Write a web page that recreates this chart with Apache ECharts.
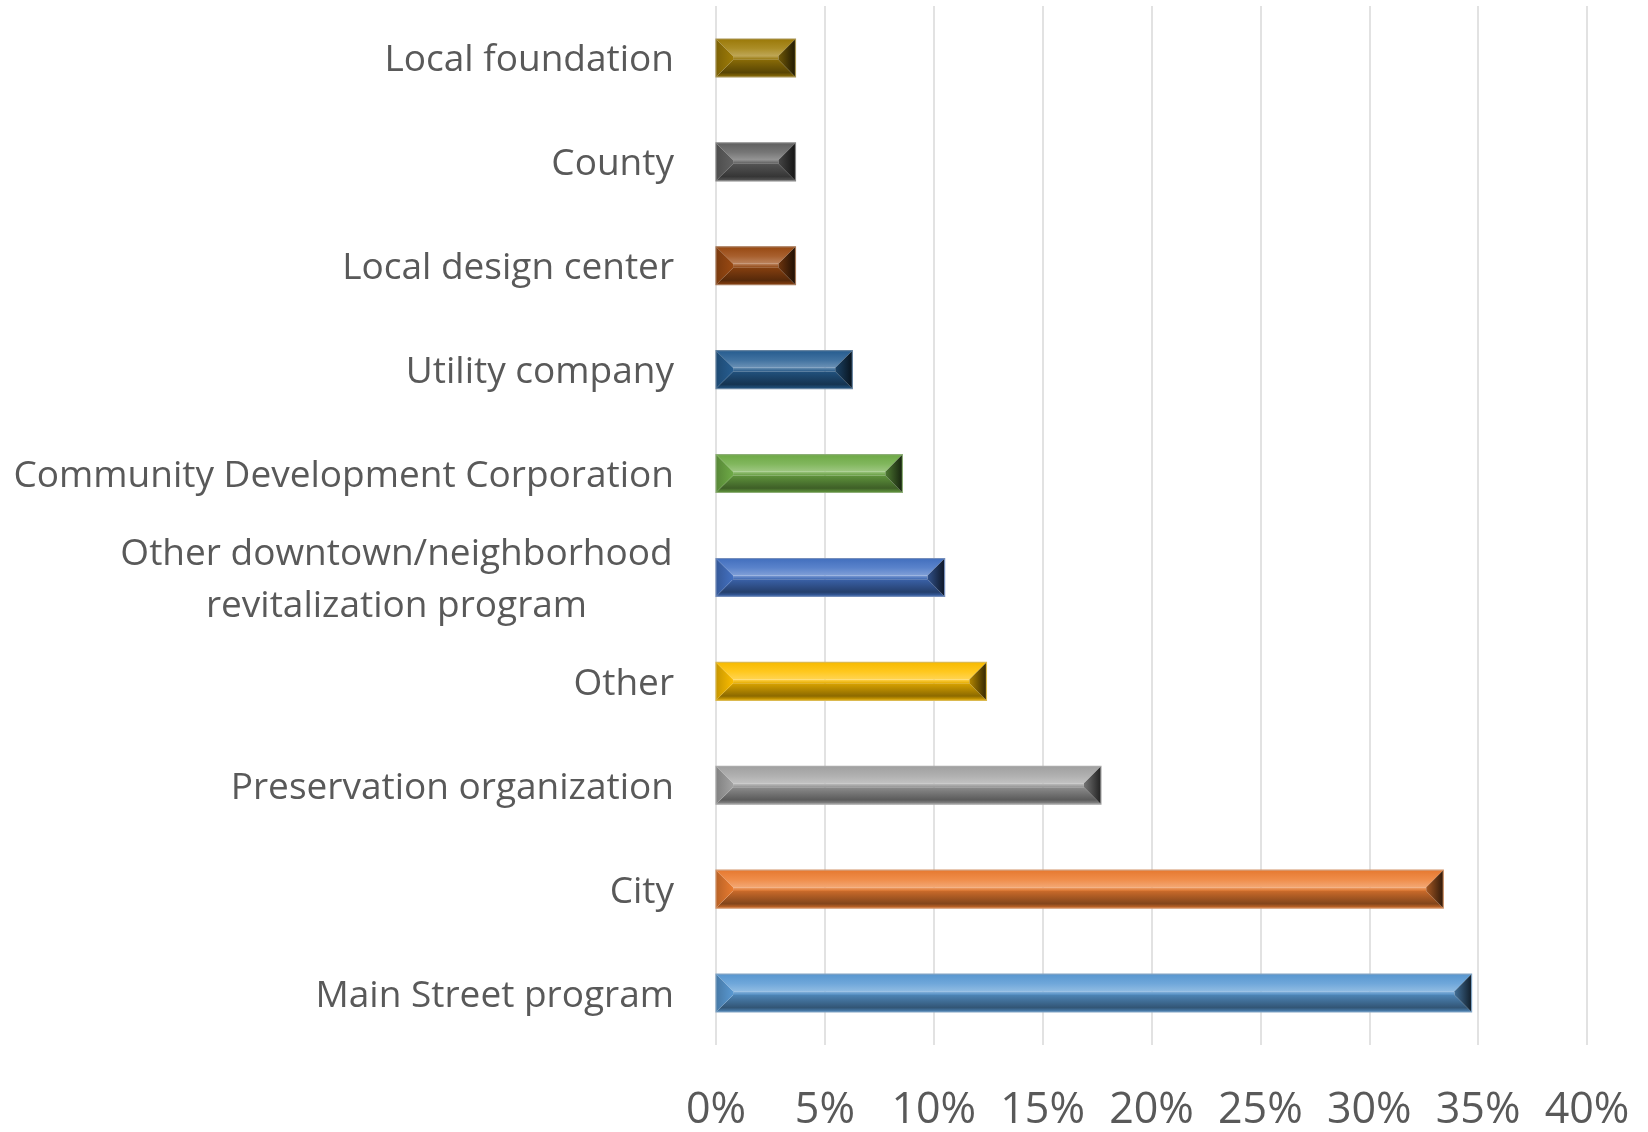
<!DOCTYPE html>
<html>
<head>
<meta charset="utf-8">
<title>Partner organizations</title>
<script src="https://cdn.jsdelivr.net/npm/echarts@6/dist/echarts.min.js"></script>
<style>
  html, body { margin: 0; padding: 0; background: #ffffff; }
  #chart { width: 1648px; height: 1132px; }
</style>
</head>
<body>
<div id="chart"></div>
<script>
// Categories listed top to bottom
const categories = [
  'Local foundation',
  'County',
  'Local design center',
  'Utility company',
  'Community Development Corporation',
  'Other downtown/neighborhood\nrevitalization program',
  'Other',
  'Preservation organization',
  'City',
  'Main Street program'
];

// Share of respondents, percent
const shares = [3.65, 3.65, 3.65, 6.26, 8.56, 10.5, 12.42, 17.68, 33.4, 34.7];

// Value axis ticks, percent
const tickValues = [0, 5, 10, 15, 20, 25, 30, 35, 40];

// Bar base colours, one per category
const barColors = ['#a07d08', '#636363', '#9c4a12', '#275f93', '#70ad47', '#4472c4', '#ffc000', '#a5a5a5', '#ed7d31', '#5b9bd5'];

const LABEL_FONT = '"Open Sans", "Noto Sans", sans-serif';
const LABEL_SIZE = 37;
const TEXT_COLOR = '#595959';

function hexToRgb(h) {
  h = h.replace('#', '');
  return [parseInt(h.slice(0, 2), 16), parseInt(h.slice(2, 4), 16), parseInt(h.slice(4, 6), 16)];
}
function mix(hex, target, t) {
  const a = hexToRgb(hex), b = hexToRgb(target);
  const c = a.map((v, i) => Math.round(v + (b[i] - v) * t));
  return 'rgb(' + c.join(',') + ')';
}
const lighten = (c, t) => mix(c, '#ffffff', t);
const darken = (c, t) => mix(c, '#000000', t);
function vgrad(stops) {
  return { type: 'linear', x: 0, y: 0, x2: 0, y2: 1, colorStops: stops.map(s => ({ offset: s[0], color: s[1] })) };
}
function hgrad(stops) {
  return { type: 'linear', x: 0, y: 0, x2: 1, y2: 0, colorStops: stops.map(s => ({ offset: s[0], color: s[1] })) };
}

// Width of the widest line of the two-line label, so both lines can be centred on it
const measureCtx = document.createElement('canvas').getContext('2d');
measureCtx.font = LABEL_SIZE + 'px ' + LABEL_FONT;
const wrapWidth = Math.ceil(measureCtx.measureText('Other downtown/neighborhood').width) + 2;

// Bevelled bar: top and bottom slopes, end caps and a narrow flat face
function renderBevelBar(params, api) {
  const v = api.value(0);
  const idx = api.value(1);
  const start = api.coord([0, idx]);
  const end = api.coord([v, idx]);
  const h = api.size([0, 1])[1] * 0.365;
  const x0 = start[0], x1 = end[0];
  const y0 = start[1] - h / 2, y1 = start[1] + h / 2;
  const d = Math.min(h * 0.45, (x1 - x0) / 2);
  const c = barColors[params.dataIndex % barColors.length];

  return {
    type: 'group',
    children: [
      { // top slope
        type: 'polygon',
        shape: { points: [[x0, y0], [x1, y0], [x1 - d, y0 + d], [x0 + d, y0 + d]] },
        style: { fill: vgrad([[0, darken(c, 0.03)], [0.55, lighten(c, 0.12)], [1, lighten(c, 0.32)]]) }
      },
      { // flat face
        type: 'rect',
        shape: { x: x0 + d, y: y0 + d, width: Math.max(0, x1 - x0 - 2 * d), height: Math.max(0, h - 2 * d) },
        style: { fill: vgrad([[0, lighten(c, 0.3)], [1, darken(c, 0.1)]]) }
      },
      { // bottom slope
        type: 'polygon',
        shape: { points: [[x0 + d, y1 - d], [x1 - d, y1 - d], [x1, y1], [x0, y1]] },
        style: { fill: vgrad([[0, darken(c, 0.15)], [0.75, darken(c, 0.45)], [1, darken(c, 0.12)]]) }
      },
      { // left cap
        type: 'polygon',
        shape: { points: [[x0, y0], [x0 + d, y0 + d], [x0 + d, y1 - d], [x0, y1]] },
        style: { fill: hgrad([[0, darken(c, 0.22)], [1, darken(c, 0.02)]]) }
      },
      { // right cap
        type: 'polygon',
        shape: { points: [[x1, y0], [x1, y1], [x1 - d, y1 - d], [x1 - d, y0 + d]] },
        style: { fill: hgrad([[0, darken(c, 0.3)], [1, darken(c, 0.8)]]) }
      },
      { // outline
        type: 'rect',
        shape: { x: x0, y: y0, width: x1 - x0, height: h },
        style: { fill: 'none', stroke: mix(c, '#b0b0b0', 0.45), lineWidth: 1.2 }
      }
    ]
  };
}

const chart = echarts.init(document.getElementById('chart'), null, { renderer: 'canvas' });

chart.setOption({
  backgroundColor: '#ffffff',
  animation: false,
  grid: { left: 716, right: 61, top: 6, bottom: 84, containLabel: false },
  xAxis: {
    type: 'value',
    min: tickValues[0],
    max: tickValues[tickValues.length - 1],
    interval: tickValues[1] - tickValues[0],
    axisLine: { show: false },
    axisTick: { show: false },
    splitLine: { show: true, lineStyle: { color: '#d9d9d9', width: 1.5 } },
    axisLabel: {
      formatter: '{value}%',
      fontFamily: LABEL_FONT,
      fontSize: 43,
      color: TEXT_COLOR,
      margin: 44
    }
  },
  yAxis: {
    type: 'category',
    inverse: true,
    data: categories,
    axisLine: { show: false },
    axisTick: { show: false },
    splitLine: { show: false },
    axisLabel: {
      fontFamily: LABEL_FONT,
      fontSize: LABEL_SIZE,
      color: TEXT_COLOR,
      margin: 42,
      lineHeight: 52,
      padding: [6, 0, 0, 0],
      interval: 0,
      formatter: function (val) {
        if (val.indexOf('\n') >= 0) {
          return val.split('\n').map(s => '{w|' + s + '}').join('\n');
        }
        return val;
      },
      rich: {
        w: {
          width: wrapWidth,
          align: 'center',
          fontFamily: LABEL_FONT,
          fontSize: LABEL_SIZE,
          color: TEXT_COLOR,
          lineHeight: 52
        }
      }
    }
  },
  series: [{
    type: 'custom',
    coordinateSystem: 'cartesian2d',
    encode: { x: 0, y: 1 },
    data: shares.map((v, i) => [v, i]),
    renderItem: renderBevelBar
  }]
});
</script>
</body>
</html>
